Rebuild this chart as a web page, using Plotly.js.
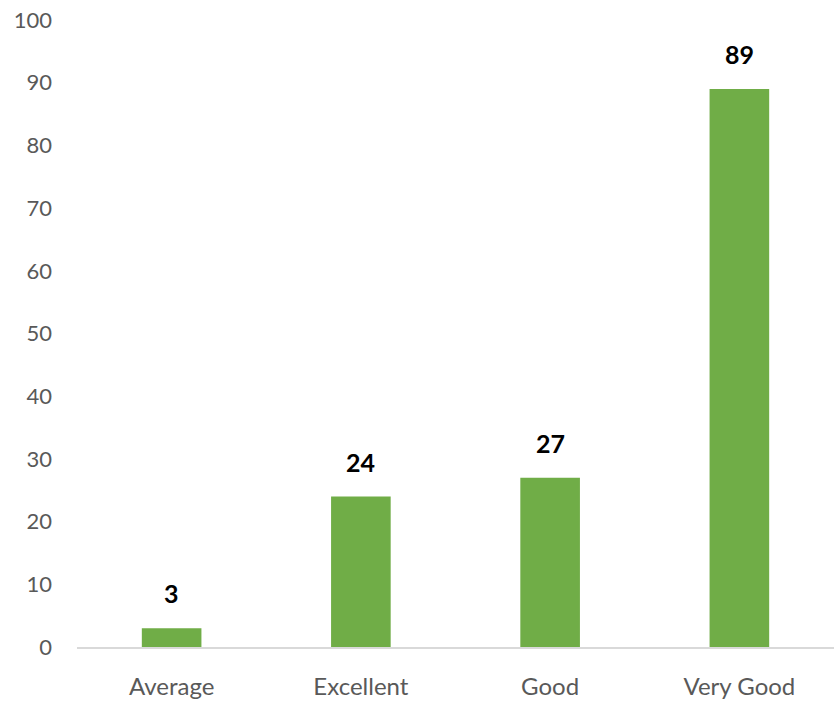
<!DOCTYPE html>
<html>
<head>
<meta charset="utf-8">
<script src="https://cdn.plot.ly/plotly-3.0.1.min.js"></script>
<style>html,body{margin:0;padding:0;background:#fff;}#chart{width:834px;height:705px;}</style>
</head>
<body>
<div id="chart"></div>
<script>
const categories = ["Average", "Excellent", "Good", "Very Good"];
const values = [3, 24, 27, 89];
const yTicks = [0, 10, 20, 30, 40, 50, 60, 70, 80, 90, 100];

const FONT = 'Lato, "Open Sans", sans-serif';

Plotly.newPlot('chart', [{
  type: 'bar',
  x: categories,
  y: values,
  width: 0.315,
  marker: {color: '#70AD47'},
  hoverinfo: 'none'
}], {
  width: 834, height: 705,
  margin: {l: 77, r: 0, t: 20, b: 58},
  paper_bgcolor: '#ffffff', plot_bgcolor: '#ffffff',
  showlegend: false,
  font: {family: FONT, color: '#595959'},
  annotations: categories.map((c, i) => ({
    x: c, y: values[i], xref: 'x', yref: 'y',
    text: String(values[i]), showarrow: false,
    yanchor: 'bottom', yshift: 18,
    font: {family: FONT, size: 25, color: '#000000', weight: 'bold'}
  })),
  xaxis: {
    type: 'category',
    range: [-0.5, 3.5],
    showgrid: false,
    showline: true, linecolor: '#D9D9D9', linewidth: 2,
    ticks: '', ticklabelstandoff: 17,
    tickfont: {family: FONT, size: 24, color: '#595959'},
    zeroline: false, fixedrange: true
  },
  yaxis: {
    range: [0, 100],
    tickvals: yTicks,
    ticktext: yTicks.map(String),
    showgrid: false, zeroline: false, showline: false,
    ticks: '', ticklabelstandoff: 24,
    tickfont: {family: FONT, size: 22, color: '#595959'},
    fixedrange: true
  }
}, {staticPlot: true, displayModeBar: false});
</script>
</body>
</html>
